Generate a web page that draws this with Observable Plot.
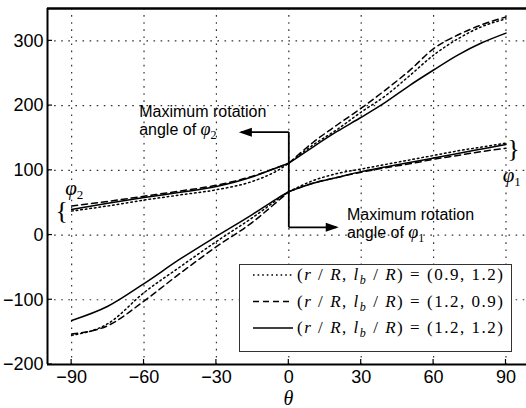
<!DOCTYPE html>
<html><head><meta charset="utf-8">
<script src="https://cdn.jsdelivr.net/npm/d3@7"></script>
<script src="https://cdn.jsdelivr.net/npm/@observablehq/plot@0.6"></script>
<style>
html,body{margin:0;padding:0;background:#fff;}
#chart{width:526px;height:408px;overflow:hidden;}
</style></head><body><div id="chart"></div>
<script>
// ---- data ----
const xTicks = [-90, -60, -30, 0, 30, 60, 90];
const yTicks = [-200, -100, 0, 100, 200, 300];
const theta = [-90, -75, -60, -45, -30, -15, -5, 0, 10, 20, 30, 40, 50, 60, 70, 80, 90];
// (r/R, lb/R) = (0.9, 1.2)  dotted
const phi1_a = [-155, -137, -89, -49, -10, 27, 54, 67, 84, 95, 102, 109, 116, 123, 130, 136, 142];
const phi2_a = [37, 45, 54, 62, 70, 83, 99, 111, 139, 163, 190, 215, 246, 278, 303, 322, 334];
// (1.2, 0.9) dashed
const phi1_b = [-153, -140, -102, -59, -18, 20, 51, 67, 80, 89, 97, 104, 110, 117, 123, 129, 134];
const phi2_b = [45, 52, 60, 68, 77, 91, 104, 111, 143, 170, 196, 224, 254, 288, 309, 325, 337];
// (1.2, 1.2) solid
const phi1_c = [-132, -110, -75, -37, -2, 32, 56, 67, 80, 89, 98, 105, 112, 119, 126, 133, 140];
const phi2_c = [39.5, 49, 58, 66, 75, 90, 104, 111, 136, 160, 182, 205, 231, 255, 278, 297, 312];
const legendValues = [["0.9", "1.2"], ["1.2", "0.9"], ["1.2", "1.2"]];
// annotations (data units)
const stemTheta = 0;
const stemTop = 159, stemBottom = 12;
const headTheta = 20.7;
const notes = [{theta: -61.8, v: 182, sub: "2"}, {theta: 24.3, v: 22, sub: "1"}];
const braces = [{theta: -93.9, v: 37.4, ch: "{"}, {theta: 93.3, v: 133, ch: "}"}];
const phiTags = [{theta: -88.7, v: 70, sub: "2"}, {theta: 92.6, v: 90, sub: "1"}];

const styles = [
  {key: "a", dash: "1.6,3", p1: phi1_a, p2: phi2_a},
  {key: "b", dash: "6,4", p1: phi1_b, p2: phi2_b},
  {key: "c", dash: null, p1: phi1_c, p2: phi2_c}
];
const rows = [];
for (const s of styles) {
  for (const [br, arr] of [["p1", s.p1], ["p2", s.p2]]) {
    theta.forEach((t, i) => {
      if (t <= 0) rows.push({theta: t, value: arr[i], series: s.key, seg: br + "L"});
      if (t >= 0) rows.push({theta: t, value: arr[i], series: s.key, seg: br + "R"});
    });
  }
}

const headLeft = {draw(ctx) { ctx.moveTo(0, 0); ctx.lineTo(13, -4.5); ctx.lineTo(13, 4.5); ctx.closePath(); }};
const headRight = {draw(ctx) { ctx.moveTo(0, 0); ctx.lineTo(-13, -4.5); ctx.lineTo(-13, 4.5); ctx.closePath(); }};

const lineMarks = styles.map(s => Plot.line(rows.filter(d => d.series === s.key), {
  x: "theta", y: "value", z: "seg", stroke: "#000", strokeWidth: 1.5,
  strokeDasharray: s.dash, curve: "monotone-x"
}));

const gridStyle = {stroke: "#333", strokeWidth: 1.2, strokeDasharray: "1.6,5.5"};

const chart = Plot.plot({
  width: 526, height: 408,
  marginLeft: 47, marginRight: 0, marginTop: 8, marginBottom: 44,
  style: {fontFamily: "'Liberation Sans', Arial, sans-serif", fontSize: "18px", color: "#000", background: "#fff"},
  x: {domain: [-100, 98.5], ticks: xTicks},
  y: {domain: [-200, 350], ticks: yTicks},
  marks: [
    Plot.ruleX(xTicks, {x: d => d, ...gridStyle}),
    Plot.ruleY(yTicks.filter(t => t > -200), {y: d => d, ...gridStyle}),
    ...lineMarks,
    Plot.ruleX([-100], {strokeWidth: 2}),
    Plot.ruleY([-200], {strokeWidth: 2}),
    Plot.ruleY([350], {strokeWidth: 2.5}),
    Plot.axisX(xTicks, {tickSize: 0, tickPadding: 6, label: null, fontSize: 18}),
    Plot.axisY(yTicks, {tickSize: 0, tickPadding: 4, label: null, fontSize: 18}),
    Plot.link([{x1: stemTheta, x2: stemTheta, y1: stemTop, y2: stemBottom},
               {x1: stemTheta, x2: -headTheta + 1, y1: stemTop, y2: stemTop},
               {x1: stemTheta, x2: headTheta - 1, y1: stemBottom, y2: stemBottom}],
      {x1: "x1", x2: "x2", y1: "y1", y2: "y2", stroke: "#000", strokeWidth: 1.8}),
    Plot.dot([{x: -headTheta, y: stemTop}], {x: "x", y: "y", symbol: headLeft, fill: "#000", stroke: null}),
    Plot.dot([{x: headTheta, y: stemBottom}], {x: "x", y: "y", symbol: headRight, fill: "#000", stroke: null})
  ]
});
document.getElementById("chart").appendChild(chart);

const svg = d3.select(chart);
const sx = chart.scale("x"), sy = chart.scale("y");
const X = v => sx.apply(v), Y = v => sy.apply(v);
const sans = "'Liberation Sans', Arial, sans-serif";
const serif = "'Liberation Serif', 'Times New Roman', serif";

// inward tick marks
const tg = svg.append("g").attr("stroke", "#000").attr("stroke-width", 1.2);
for (const t of xTicks) tg.append("line").attr("x1", X(t)).attr("x2", X(t)).attr("y1", Y(-200)).attr("y2", Y(-200) - 5);
for (const t of yTicks) tg.append("line").attr("x1", X(-100)).attr("x2", X(-100) + 5).attr("y1", Y(t)).attr("y2", Y(t));

// annotation texts
for (const n of notes) {
  const x = X(n.theta), y = Y(n.v);
  svg.append("text").attr("x", x).attr("y", y).attr("text-anchor", "start").attr("font-family", sans).attr("font-size", 16).text("Maximum rotation");
  const t2 = svg.append("text").attr("x", x).attr("y", y + 18).attr("text-anchor", "start").attr("font-family", sans).attr("font-size", 16);
  t2.append("tspan").text("angle of ");
  t2.append("tspan").attr("font-family", serif).attr("font-style", "italic").attr("font-size", 18).text("φ");
  t2.append("tspan").attr("font-family", serif).attr("font-size", 12).attr("dy", 4).text(n.sub);
}
// braces
for (const b of braces) {
  svg.append("text").attr("x", X(b.theta)).attr("y", Y(b.v)).attr("text-anchor", "middle")
    .attr("dominant-baseline", "central").attr("font-family", serif).attr("font-size", 26).text(b.ch);
}
for (const p of phiTags) {
  const t = svg.append("text").attr("x", X(p.theta)).attr("y", Y(p.v) + 6).attr("text-anchor", "middle")
    .attr("font-family", serif).attr("font-size", 21);
  t.append("tspan").attr("font-style", "italic").text("φ");
  t.append("tspan").attr("font-size", 13).attr("dy", 4).text(p.sub);
}
// x label
svg.append("text").attr("x", X(0)).attr("y", 405).attr("text-anchor", "middle")
  .attr("font-family", serif).attr("font-style", "italic").attr("font-size", 20).text("θ");

// legend
const lg = svg.append("g");
lg.append("rect").attr("x", 239.5).attr("y", 264.5).attr("width", 272).attr("height", 87)
  .attr("fill", "#fff").attr("stroke", "#333").attr("stroke-width", 1);
legendValues.forEach((vals, i) => {
  const base = 280 + i * 26.5;
  lg.append("line").attr("x1", 253).attr("x2", 293).attr("y1", base - 5).attr("y2", base - 5)
    .attr("stroke", "#000").attr("stroke-width", 1.5)
    .attr("stroke-dasharray", styles[i].dash);
  const t = lg.append("text").attr("x", 297).attr("y", base).attr("text-anchor", "start")
    .attr("font-family", serif).attr("font-size", 17)
    .attr("textLength", 206).attr("lengthAdjust", "spacing");
  t.append("tspan").text("(");
  t.append("tspan").attr("font-style", "italic").text("r");
  t.append("tspan").text(" / ");
  t.append("tspan").attr("font-style", "italic").text("R");
  t.append("tspan").text(", ");
  t.append("tspan").attr("font-style", "italic").text("l");
  t.append("tspan").attr("font-style", "italic").attr("font-size", 12).attr("dy", 4).text("b");
  t.append("tspan").attr("dy", -4).text(" / ");
  t.append("tspan").attr("font-style", "italic").text("R");
  t.append("tspan").text(`) = (${vals[0]}, ${vals[1]})`);
});
</script></body></html>
